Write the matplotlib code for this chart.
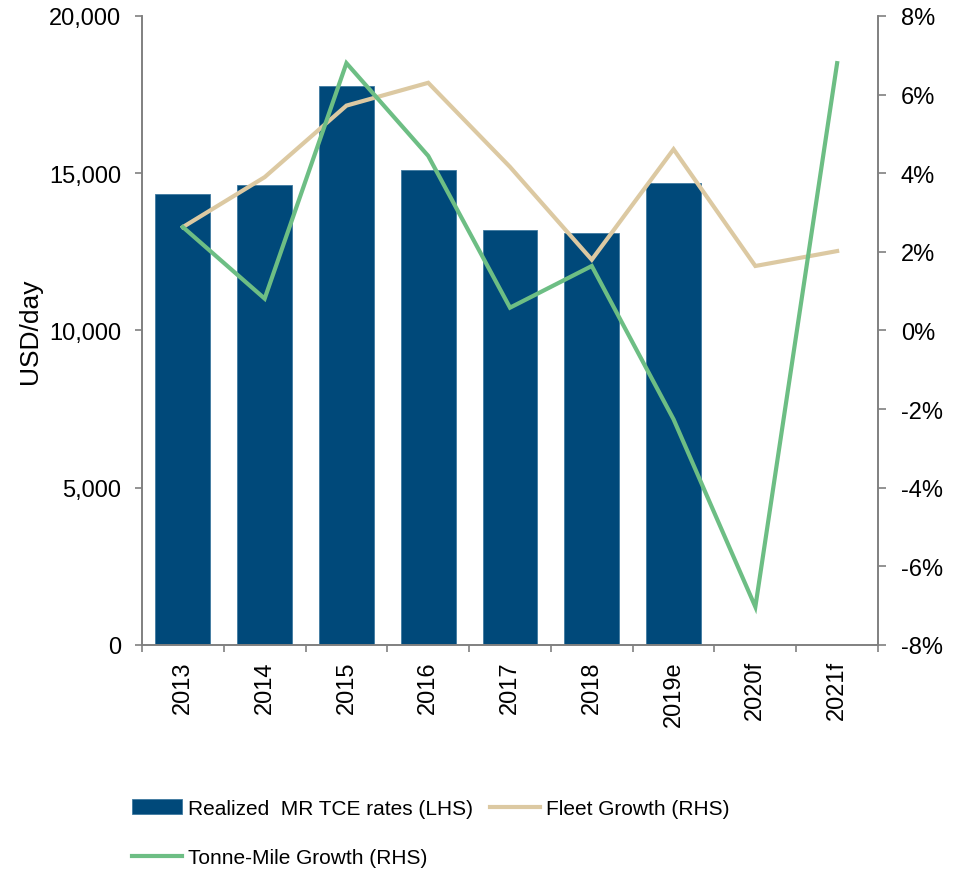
import matplotlib
matplotlib.use("Agg")
import matplotlib.pyplot as plt
from matplotlib.ticker import FuncFormatter, FixedLocator
import numpy as np

plt.rcParams['font.family'] = ['Liberation Sans', 'DejaVu Sans']

categories = ["2013", "2014", "2015", "2016", "2017", "2018", "2019e", "2020f", "2021f"]
tce_rates = [14330, 14630, 17760, 15090, 13210, 13110, 14690, None, None]
fleet_growth = [2.63, 3.90, 5.72, 6.30, 4.16, 1.80, 4.61, 1.64, 2.02]
tonne_mile_growth = [2.63, 0.81, 6.80, 4.44, 0.58, 1.64, -2.26, -7.03, 6.80]

bar_color = "#00497A"
fleet_color = "#DCC9A2"
tonne_color = "#6DBE84"
axis_color = "#808080"

fig = plt.figure(figsize=(9.62, 8.70), dpi=100)
ax = fig.add_axes([0.1476, 0.2575, 0.9127 - 0.1476, 0.9805 - 0.2575])
ax2 = ax.twinx()

x = np.arange(len(categories))
bar_x = [xi for xi, v in zip(x, tce_rates) if v is not None]
bar_v = [v for v in tce_rates if v is not None]
bars = ax.bar(bar_x, bar_v, width=0.67, color=bar_color, edgecolor="#3F7AA0", linewidth=0.6, zorder=2)

l1, = ax2.plot(x, fleet_growth, color=fleet_color, lw=3.0, solid_joinstyle='miter', zorder=3)
l2, = ax2.plot(x, tonne_mile_growth, color=tonne_color, lw=3.0, solid_joinstyle='miter', zorder=4)

ax.set_xlim(-0.5, len(categories) - 0.5)
ax.set_ylim(0, 20000)
ax2.set_ylim(-8, 8)
ax.set_yticks(np.arange(0, 20001, 5000))
ax.yaxis.set_major_formatter(FuncFormatter(lambda v, p: f"{int(v):,}"))
ax2.set_yticks(np.arange(-8, 9, 2))
ax2.yaxis.set_major_formatter(FuncFormatter(lambda v, p: f"{int(v)}%"))

ax.set_xticks(x)
ax.set_xticklabels(categories, rotation=90, fontsize=17)
ax.tick_params(axis='x', length=0, pad=11)
ax.xaxis.set_minor_locator(FixedLocator(np.arange(-0.5, len(categories), 1.0)))
ax.tick_params(axis='x', which='minor', length=5, color=axis_color, width=1.2, direction='out')

ax.tick_params(axis='y', labelsize=17, length=5, color=axis_color, width=1.2, pad=10)
ax2.tick_params(axis='y', labelsize=17, length=5.5, color=axis_color, width=1.2, pad=11)

for a in (ax, ax2):
    a.spines['top'].set_visible(False)
    for s in ('left', 'right', 'bottom'):
        a.spines[s].set_color(axis_color)
        a.spines[s].set_linewidth(1.2)

ax.set_ylabel("USD/day", fontsize=19, labelpad=5)

handles = [bars, l2, l1]
labels = ["Realized  MR TCE rates (LHS)", "Tonne-Mile Growth (RHS)", "Fleet Growth (RHS)"]
fig.legend(handles, labels, ncol=2, loc='upper left', bbox_to_anchor=(0.137, 0.0805),
           frameon=False, fontsize=15, handlelength=2.4, handletextpad=0.3,
           columnspacing=0.8, labelspacing=1.45, borderpad=0, borderaxespad=0)

fig.savefig("out.png", dpi=100)
